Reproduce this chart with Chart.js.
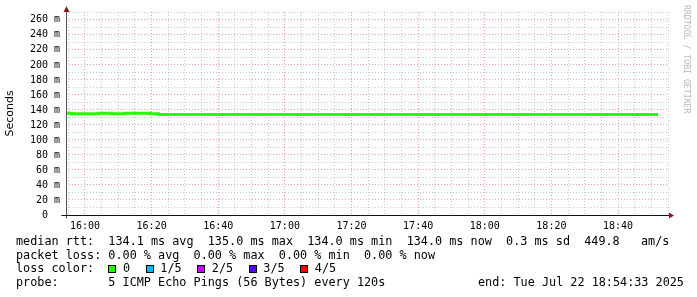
<!DOCTYPE html>
<html>
<head>
<meta charset="utf-8">
<script src="https://cdn.jsdelivr.net/npm/chart.js@4.4.0/dist/chart.umd.min.js"></script>
<style>
  body { margin: 0; background: #fff; }
  #wrap { position: relative; width: 697px; height: 297px; overflow: hidden; }
  canvas { position: absolute; left: 0; top: 0; }
  .info {
    position: absolute; left: 16px; top: 235px; margin: 0;
    font: 11.8px/13.67px "DejaVu Sans Mono", monospace; color: #000; white-space: pre;
  }
  .box {
    display: inline-block; width: 8px; height: 8px; box-sizing: border-box;
    border: 1px solid #000; margin-right: 6.7px; vertical-align: -0.5px;
  }
  .lbl { margin-right: 15.5px; }
  #end { position: absolute; left: 478px; top: 276px; font: 11.8px/13.67px "DejaVu Sans Mono", monospace; white-space: pre; }
  #mark {
    position: absolute; left: 692px; top: 5px; transform-origin: 0 0; transform: rotate(90deg);
    font: 8.2px/10px "DejaVu Sans Mono", monospace; color: #b8b8b8; white-space: pre;
  }
</style>
</head>
<body>
<div id="wrap">
  <canvas id="rtt-chart" width="697" height="297"></canvas>
  <pre class="info" id="info"></pre>
  <div id="end"></div>
  <div id="mark">RRDTOOL / TOBI OETIKER</div>
</div>
<script>
// median rtt, time in minutes after midnight, value in ms
const rttTimes = [954.3, 956, 964, 968, 972, 979.6, 982, 1132];
const rttValues = [135.6, 134.8, 135.6, 134.8, 135.6, 134.8, 134.0, 134.0];

const timeMin = 954.3;
const timeMax = 1135.3;
const yMax = 270.5;

const statLines = [
    'median rtt:  134.1 ms avg  135.0 ms max  134.0 ms min  134.0 ms now  0.3 ms sd  449.8   am/s',
    'packet loss: 0.00 % avg  0.00 % max  0.00 % min  0.00 % now'
];
const lossLabels = ['0', '1/5', '2/5', '3/5', '4/5'];
const lossColors = ['#26ff00', '#00b8ff', '#cc00ff', '#5500ff', '#ff0000'];
const probeText = 'probe:       5 ICMP Echo Pings (56 Bytes) every 120s';
const endText = 'end: Tue Jul 22 18:54:33 2025';

function renderText() {
    let html = statLines.join('\n') + '\n' + 'loss color:  ';
    lossLabels.forEach(function(l, i) {
        html += '<span class="box" style="background:' + lossColors[i] + '"></span><span class="lbl">' + l + '</span>';
    });
    html += '\n' + probeText;
    document.getElementById('info').innerHTML = html;
    document.getElementById('end').textContent = endText;
}

function pad2(n) {
    return (n < 10 ? '0' : '') + n;
}

// axis lines with the rrdtool arrows
const axisArrows = {
    id: 'axisArrows',
    afterDraw(chart) {
        const ctx = chart.ctx;
        const a = chart.chartArea;
        const x = Math.round(a.left) + 0.5;
        const y = Math.round(a.bottom) + 0.5;
        ctx.save();
        ctx.lineWidth = 1;
        ctx.strokeStyle = '#555';
        ctx.beginPath();
        ctx.moveTo(x, y + 3);
        ctx.lineTo(x, a.top - 1);
        ctx.stroke();
        ctx.strokeStyle = '#111';
        ctx.beginPath();
        ctx.moveTo(x - 5, y);
        ctx.lineTo(a.right + 1, y);
        ctx.stroke();
        ctx.fillStyle = '#8b1c1c';
        ctx.beginPath();
        ctx.moveTo(x, a.top - 6);
        ctx.lineTo(x - 3, a.top);
        ctx.lineTo(x + 3, a.top);
        ctx.closePath();
        ctx.fill();
        ctx.beginPath();
        ctx.moveTo(a.right + 5, y);
        ctx.lineTo(a.right, y - 3);
        ctx.lineTo(a.right, y + 3);
        ctx.closePath();
        ctx.fill();
        ctx.restore();
    }
};

function renderChart() {
    let ctx = document.getElementById('rtt-chart');
    Chart.defaults.font.family = '"DejaVu Sans Mono", monospace';
    Chart.defaults.color = '#000';

    const major = 'rgba(225, 70, 70, 0.5)';
    const minor = 'rgba(150, 150, 150, 0.5)';

    new Chart(ctx, {
        type: 'line',
        data: {
            datasets: [{
                data: rttTimes.map(function(t, i) { return {x: t, y: rttValues[i]}; }),
                stepped: true,
                borderColor: '#26ff00',
                borderWidth: 3,
                borderCapStyle: 'butt',
                pointRadius: 0,
                fill: false
            }]
        },
        options: {
            responsive: false,
            animation: false,
            devicePixelRatio: 1,
            layout: { padding: { left: 0, right: 28, top: 12, bottom: 0 } },
            plugins: { legend: { display: false }, tooltip: { enabled: false } },
            scales: {
                x: {
                    type: 'linear',
                    min: timeMin,
                    max: timeMax,
                    afterFit: function(s) { s.height = 82; },
                    border: { display: false, dash: [1, 2] },
                    grid: {
                        drawTicks: false,
                        color: function(c) { return c.tick && c.tick.value % 20 === 0 ? major : minor; }
                    },
                    ticks: {
                        stepSize: 5,
                        includeBounds: false,
                        autoSkip: false,
                        maxRotation: 0,
                        padding: 5,
                        font: { size: 10 },
                        callback: function(v) {
                            if (v % 20 !== 0) return '';
                            return pad2(Math.floor(v / 60)) + ':' + pad2(v % 60);
                        }
                    }
                },
                y: {
                    min: 0,
                    max: yMax,
                    afterFit: function(s) { s.width = 66; },
                    border: { display: false, dash: [1, 2] },
                    grid: {
                        drawTicks: false,
                        color: function(c) { return c.tick && c.tick.value % 20 === 0 ? major : minor; }
                    },
                    title: {
                        display: true,
                        text: 'Seconds',
                        font: { family: '"DejaVu Sans", sans-serif', size: 11 },
                        padding: 4
                    },
                    ticks: {
                        stepSize: 10,
                        includeBounds: false,
                        autoSkip: false,
                        padding: 6,
                        font: { size: 10 },
                        callback: function(v) {
                            if (v === 0) return '0  ';
                            return v % 20 === 0 ? v + ' m' : '';
                        }
                    }
                }
            }
        },
        plugins: [axisArrows]
    });
}

renderText();
renderChart();
</script>
</body>
</html>
